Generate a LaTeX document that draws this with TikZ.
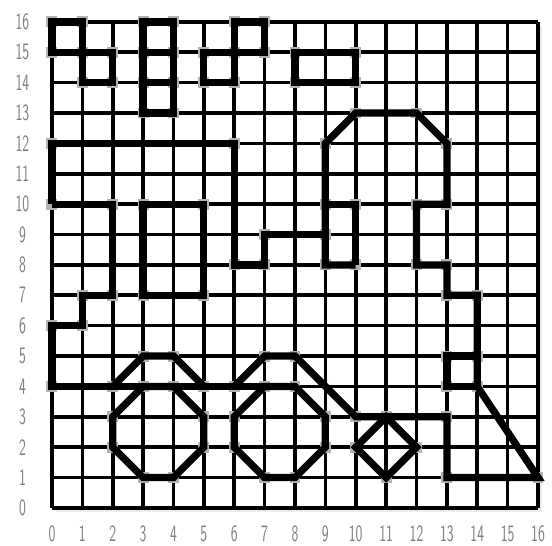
\documentclass[tikz,border=0pt]{standalone}
\usepackage{graphicx}
\begin{document}
\begin{tikzpicture}[scale=1.0,
    gridline/.style={line width=3.4pt},
    fig/.style={line width=6.8pt,line join=miter},
    vtx/.style={fill=gray!60},
    lbl/.style={text=black!50,font=\fontsize{22}{22}\selectfont\sffamily,inner sep=0pt}]
    \useasboundingbox (-1.71,-1.22) rectangle (16.46,16.72);
    % shadow and grid
    \fill[gray!15] (0.13,-0.13) rectangle (16.13,15.87);
    \fill[white] (0,0) rectangle (16,16);
    \draw[gridline] (0,0) grid (16,16);
    \foreach \i in {0,...,16} {
      \node[lbl] (xl\i) at (\i,-0.86) {\scalebox{0.62}[1]{\i}};
      \node[lbl] (yl\i) at (-0.97,\i) {\scalebox{0.62}[1]{\i}};
    }
    % corner dots
    \foreach \x/\y in {0/16,1/16,0/15,1/15,2/15,1/14,2/14,
        3/16,4/16,3/15,4/15,3/14,4/14,3/13,4/13,
        6/16,7/16,5/15,6/15,7/15,5/14,6/14,
        8/15,10/15,8/14,10/14,
        0/12,6/12,0/10,2/10,3/10,5/10,1/7,2/7,3/7,5/7,0/6,1/6,0/4,
        6/8,7/8,7/9,9/9,9/12,10/13,12/13,13/12,9/10,10/10,9/8,10/8,
        12/10,13/10,12/8,13/8,13/7,14/7,13/5,14/5,13/4,14/4,
        16/1,13/1,13/3,10/3,11/3,12/2,11/1,10/2,
        2/4,3/5,4/5,5/4,6/4,7/5,8/5,
        2/2,2/3,3/4,4/4,5/3,5/2,4/1,3/1,
        6/2,6/3,7/4,8/4,9/3,9/2,8/1,7/1}
      \fill[vtx] (\x-0.18,\y-0.18) rectangle (\x+0.18,\y+0.18);
    % top row of squares
    \draw[fig] (0,15) -- (0,16) -- (1,16) -- (1,14) -- (2,14) -- (2,15) -- cycle;
    \draw[fig] (3,13) rectangle (4,16);
    \draw[fig] (3,15) -- (4,15) (3,14) -- (4,14);
    \draw[fig] (5,14) rectangle (6,15);
    \draw[fig] (6,15) rectangle (7,16);
    \draw[fig] (8,14) rectangle (10,15);
    % left outline
    \draw[fig] (0,10) -- (0,12) -- (6,12) -- (6,8) -- (7,8) -- (7,9) -- (9,9);
    \draw[fig] (0,10) -- (2,10) -- (2,7) -- (1,7) -- (1,6) -- (0,6) -- (0,4) -- (8,4);
    \draw[fig] (3,7) rectangle (5,10);
    % arch and right outline
    \draw[fig] (10,8) -- (9,8) -- (9,12) -- (10,13) -- (12,13) -- (13,12) -- (13,10)
      -- (12,10) -- (12,8) -- (13,8) -- (13,7) -- (14,7) -- (14,4) -- (16,1)
      -- (13,1) -- (13,3) -- (10,3) -- (8,5) -- (7,5) -- (6,4);
    \draw[fig] (9,10) -- (10,10) -- (10,8);
    \draw[fig] (13,4) rectangle (14,5);
    \draw[fig] (2,4) -- (3,5) -- (4,5) -- (5,4);
    % wheels and diamond
    \draw[fig] (2,2) -- (2,3) -- (3,4) -- (4,4) -- (5,3) -- (5,2) -- (4,1) -- (3,1) -- cycle;
    \draw[fig] (6,2) -- (6,3) -- (7,4) -- (8,4) -- (9,3) -- (9,2) -- (8,1) -- (7,1) -- cycle;
    \draw[fig] (11,3) -- (12,2) -- (11,1) -- (10,2) -- cycle;
\end{tikzpicture}
\end{document}
